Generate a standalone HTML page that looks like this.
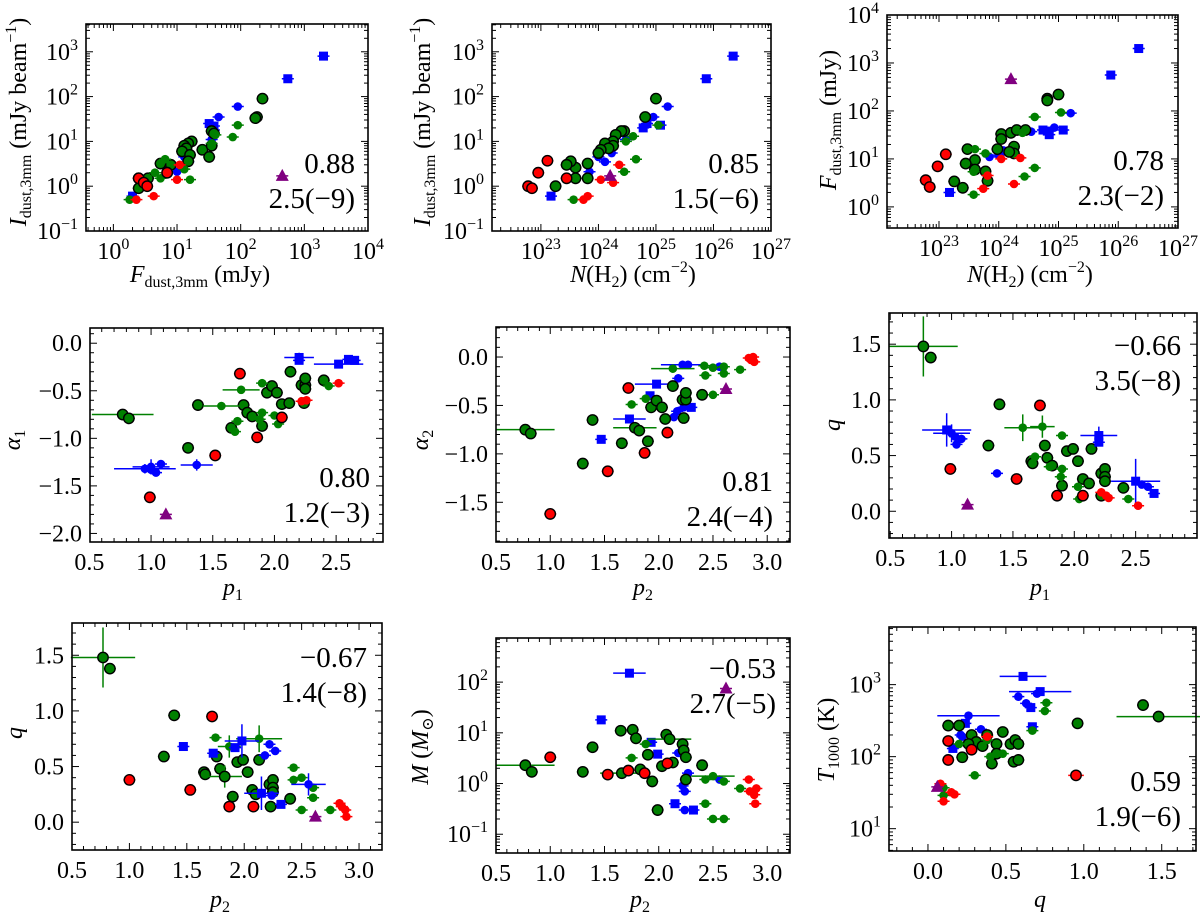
<!DOCTYPE html>
<html><head><meta charset="utf-8"><style>
html,body{margin:0;padding:0;background:#fff;}
svg{display:block;font-family:"Liberation Serif","DejaVu Serif",serif;}
</style></head><body>
<svg id="fig" width="1200" height="913" viewBox="0 0 1200 913" xmlns="http://www.w3.org/2000/svg"></svg>
<script>
// ---- Data (kinds: G green outlined, g green small, R red outlined, r red small, B blue square, b blue small, P purple triangle)
const p1x=[2000,550,90,45,32,38,38,35,14,13,15,10,2, 220,180,170,35,38,17,15,13,14,12,16,25,32,35,8,5.5,3.5,2.5,2.5,7,15, 90,75,6.5,4.5,5.5,16,13,1.8,40,35, 2.5,3,3.4,7, 2.3,4.3,10,11, 450];
const p1y=[800,250,60,35,25,22,18,11,5.5,4.5,3.5,2.1,0.6, 90,35,33,17,15,10,9,8,7,6,5,6.5,4.5,8,3,3.2,1.5,1.5,0.9,2,3.6, 23,12.5,4,2,1.5,1.4,2.4,0.5,14,9, 1.5,1.2,1.0,2, 0.5,0.6,1.4,3, 1.7];
const p1k="BBbbBBBbbbbbBGGGGGGGGGGGGGGGGGGGGGggggggggggRRRRrrrrP";
const p2x=[2.2e26,7.5e25,1.6e25,9e24,7e24,6e24,1.2e25,3e24,1.7e24,1.3e24,1e24,7e23,1.5e23, 1e25,6.5e24,2.8e24,2.5e24,2e24,1.8e24,1.3e24,1.8e24,1.5e24,1.1e24,1e24,6.5e23,4e23,3.3e23,2.8e23,1.8e23,4e23,6.5e23, 4e24,3e24,4.5e24,2.8e24,3.7e23,1.1e25, 6e22,7e22,9e22,1.3e23,2.8e23, 5.5e23,6.5e23,1.1e24,1.8e24,2.3e24, 1.6e24];
const p2y=[800,250,60,35,25,20,23,11,5.5,3.5,4.5,2.1,0.6, 90,35,17,17,14,10,9,8,7,6.5,5.5,3.2,2.6,3.6,3,1,1.5,1.5, 13,10,4,2.1,0.5,23, 1,0.9,2,3.7,1.5, 0.5,0.6,1.4,1.2,3, 1.7];
const p2k="BBbbBBBbbbbbBGGGGGGGGGGGGGGGGGGggggggRRRRRrrrrrP";
const p3x=[2.2e26,7.5e25,1.6e25,8.5e24,5.5e24,6.5e24,7e24,1.2e25,3.5e24,1.2e24,1.7e24,1e24,7e23,1.5e23, 1e25,6.5e24,6.5e24,1.1e24,1.1e24,1.6e24,2e24,2.8e24,1.8e24,1.8e24,1.5e24,9.5e23,6e23,6.5e23,4e23,4e23,3e23,2.8e23,1.8e23,2.5e23, 4e24,1.1e25,2.5e24,4e24,2.7e24,3.8e23,4e23,6e23,3.8e23, 6e22,7e22,9.5e22,1.3e23, 5.5e23,6.5e23,1.1e24,2.3e24,1.8e24, 1.6e24];
const p3y=[2000,560,90,45,40,38,32,40,37,15,14,12,11,2, 220,180,165,33,26,35,40,40,18,13,14,16,5.5,3.5,9.5,6,16,8,3.4,2.5, 75,93,35,6.5,4.3,1.8,16,13,5.4, 3.6,2.6,7,12.5, 2.4,4.5,10,10.5,3, 460];
const p3k="BBbbBBBBbbbbbBGGGGGGGGGGGGGGGGGGGGgggggggggRRRRrrrrrP";
const p4x=[2.2,2.2,2.52,2.6,2.65, 0.95,1.0,1.04,1.08,1.37,1.0, 0.77,0.82,1.3,1.38,1.65,1.75,1.78,1.82,1.9,1.94,1.98,2.02,2.06,2.12,2.13,2.22,2.25,2.25,2.25,2.4,2.24, 1.57,1.73,1.9,1.9,2.0,1.88,2.03,1.7,2.44,1.68, 1.72,2.06,1.86,1.52,0.99, 2.22,2.26,2.52, 1.12];
const p4y=[-0.15,-0.18,-0.22,-0.17,-0.18, -1.32,-1.3,-1.36,-1.27,-1.28,-1.33, -0.75,-0.79,-1.1,-0.65,-0.89,-0.65,-0.73,-0.77,-0.87,-0.52,-0.45,-0.52,-0.64,-0.63,-0.3,-0.44,-0.44,-0.37,-0.48,-0.39,-0.63, -0.66,-0.49,-0.42,-0.73,-0.76,-0.8,-0.85,-0.82,-0.45,-0.93, -0.32,-0.78,-0.99,-1.18,-1.62, -0.61,-0.6,-0.42, -1.8];
const p4k="BBBBBbbbbbbGGGGGGGGGGGGGGGGGGGGGggggggggggRRRRRrrrP";
const p5x=[2.83,2.87,2.88,2.85, 2.22,2.27,2.56,2.18,1.98,1.92,2.23,2.3,2.17,2.14,1.73,1.47, 2.13,2.42,2.5,2.6,2.43,2.6,2.75,2.5,1.75,1.88, 0.77,0.82,1.3,1.39,1.66,1.78,1.82,1.9,1.93,1.98,2.03,2.06,2.13,2.22,2.25,2.25,2.23,2.4, 1.72,2.08,1.87,1.53,1.0, 2.62];
const p5y=[-0.01,0,-0.05,-0.03, -0.08,-0.08,-0.1,-0.22,-0.28,-0.4,-0.52,-0.52,-0.56,-0.62,-0.64,-0.85, -0.12,-0.09,-0.11,-0.1,-0.19,-0.17,-0.13,-0.39,-0.49,-0.43, -0.75,-0.79,-1.1,-0.65,-0.89,-0.73,-0.76,-0.87,-0.52,-0.45,-0.52,-0.64,-0.3,-0.44,-0.44,-0.37,-0.63,-0.39, -0.32,-0.78,-0.99,-1.18,-1.62, -0.33];
const p5k="rrrrbbbbBBbBbbBBggggggggggGGGGGGGGGGGGGGGGGGRRRRRP";
const p6x=[0.77,0.83,1.39,1.3,1.65,1.66,1.76,1.78,1.82,1.9,1.94,1.99,2.03,2.07,2.12,2.14,2.22,2.25,2.25,2.25,2.4,2.22, 1.58,1.74,1.9,1.68,1.8,1.89,1.9,2.03,2.04,2.44, 0.96,1.0,1.03,1.08,1.04,1.37,2.2,2.2,2.5,2.55,2.6,2.65, 1.72,0.99,1.53,1.86,2.07, 2.22,2.26,2.28,2.52, 1.13];
const p6y=[1.48,1.38,0.96,0.59,0.45,0.43,0.59,0.48,0.41,0.23,0.54,0.56,0.45,0.29,0.25,0.56,0.34,0.38,0.31,0.27,0.21,0.14, 0.75,0.76,0.68,0.49,0.4,0.31,0.38,0.22,0.11,0.11, 0.73,0.7,0.67,0.65,0.6,0.34,0.68,0.62,0.27,0.24,0.22,0.16, 0.95,0.38,0.29,0.14,0.14, 0.17,0.14,0.12,0.05, 0.06];
const p6k="GGGGGGGGGGGGGGGGGGGGGGggggggggggBbbbbbBBBbbBRRRRRrrrrP";
const p7x=[0.77,0.83,1.39,1.3,1.65,1.66,1.76,1.79,1.83,1.9,1.94,1.99,2.03,2.07,2.13,2.22,2.25,2.25,2.25,2.4,2.23,2.1, 1.75,1.87,2.13,2.43,2.43,2.5,2.6,2.6,2.5,2.75, 1.47,1.73,1.92,1.98,2.22,2.27,2.18,2.56,2.15,2.24,2.32, 1.72,1.0,1.53,1.87,2.08, 2.83,2.85,2.88,2.89, 2.62];
const p7y=[1.48,1.38,0.96,0.59,0.45,0.43,0.59,0.48,0.41,0.23,0.54,0.56,0.45,0.29,0.56,0.34,0.38,0.31,0.27,0.21,0.14,0.25, 0.76,0.68,0.75,0.49,0.38,0.4,0.31,0.22,0.11,0.11, 0.68,0.62,0.67,0.73,0.7,0.64,0.6,0.34,0.26,0.24,0.16, 0.95,0.38,0.29,0.14,0.14, 0.17,0.14,0.11,0.05, 0.05];
const p7k="GGGGGGGGGGGGGGGGGGGGGGggggggggggBBBBbbbbBbBRRRRRrrrrP";
const p8x=[1.73,1.47,1.93,1.99,2.18,2.27,2.22,2.24,2.56,2.15,2.24,2.32, 0.77,0.83,1.3,1.39,1.65,1.76,1.79,1.66,1.83,1.9,1.94,1.99,2.03,2.07,2.1,2.13,2.22,2.23,2.25,2.25,2.4, 1.75,1.88,2.43,2.5,2.6,2.43,2.5,2.6,2.75, 1.0,1.53,1.72,1.87,2.08, 2.83,2.84,2.88,2.9,2.89, 2.62];
const p8y=[150,18,6.5,3.8,4,1.6,0.9,0.7,1.2,0.4,0.3,0.3, 2.3,1.7,1.7,5.2,11,11.5,7.8,1.6,1.9,3.7,1.1,0.3,2.2,9.2,7.5,2.6,6,4.5,3.3,1.2,2.3, 3.2,6,1.2,1.4,1.1,0.4,0.2,0.2,0.8, 3.3,1.5,1.8,1.6,2.5, 1.2,0.7,0.6,0.8,0.4, 75];
const p8k="BBBBbbbbbBbBGGGGGGGGGGGGGGGGGGGGGgggggggggRRRRRrrrrrP";
const p9x=[0.61,0.72,0.7,0.58,0.63,0.66,0.67,0.26,0.24,0.22,0.34,0.16,0.21, 1.38,1.48,0.96,0.13,0.2,0.48,0.28,0.38,0.31,0.26,0.35,0.44,0.53,0.56,0.58,0.55,0.58,0.22,0.44,0.41, 0.76,0.75,0.67,0.2,0.38,0.4,0.48,0.3,0.1,0.1, 0.13,0.13,0.28,0.95, 0.38,0.1,0.08,0.15,0.17, 0.06];
const p9y=[1300,800,750,680,550,480,260,370,290,190,240,130,200, 520,360,290,270,270,220,200,200,160,150,140,150,150,170,150,85,90,98,110,80, 560,430,230,150,170,100,110,55,37,29, 165,90,125,55, 190,24,42,32,30, 38];
const p9k="BBbbbBBbBbbBbGGGGGGGGGGGGGGGGGGGGggggggggggRRRRrrrrrP";
// large error bars: [index, xerr, yerr] in data units (log panels: multiplicative factor)
const p4err=[[0,0.12,0.05],[2,0.2,0],[5,0.25,0.05],[6,0.15,0.08],[9,0.13,0.06],[11,0.25,0],[32,0.15,0],[33,0.15,0],[52,0.12,0.13]];
const p5err=[[0,0,0],[4,0.2,0],[8,0.2,0],[14,0.15,0],[16,0.2,0],[26,0.27,0],[31,0.2,0]];
const p6err=[[0,0.28,0.27],[22,0.15,0.12],[23,0.1,0.1],[32,0.2,0.15],[33,0.15,0.08],[38,0.15,0.08],[40,0.2,0.2],[54,0.15,0]];
const p7err=[[0,0.28,0.27],[23,0.1,0.1],[24,0.2,0.12],[35,0.15,0.15],[39,0.15,0.1],[40,0.15,0.15],[8,0.15,0.1]];
const p8err=[[0,0.15,0],[12,0.27,0],[19,0.2,0],[26,0.2,0],[36,0.2,0]];
const p9err=[[0,0.15,0],[1,0.2,0],[7,0.2,0],[14,0.27,0],[46,0.05,0],[53,0,0]];
// tick labels
const xtDecades1=[0,1,2,3,4];
const xtDecadesN=[23,24,25,26,27];
const xtP=[0.5,1.0,1.5,2.0,2.5,3.0];
const xtQ=[0.0,0.5,1.0,1.5];
const yt1=[-1,0,1,2,3];
const yt3=[0,1,2,3,4];
const yt4=[0.0,-0.5,-1.0,-1.5,-2.0];
const yt5=[0.0,-0.5,-1.0,-1.5];
const ytq=[0.0,0.5,1.0,1.5];
const yt8=[-1,0,1,2];
const yt9=[1,2,3];

const NS="http://www.w3.org/2000/svg";
const svg=document.getElementById('fig');
const COL={G:'#008000',g:'#008000',R:'#ff0000',r:'#ff0000',B:'#0000ff',b:'#0000ff',P:'#800080'};
function mk(tag,attrs,parent){const e=document.createElementNS(NS,tag);for(const k in attrs)e.setAttribute(k,attrs[k]);(parent||svg).appendChild(e);return e;}

function panel(cfg){
  const g=mk('g',{});
  
  
  const L=cfg.L,R=cfg.R,T=cfg.T,B=cfg.B;
  const fx=v=>{const t=cfg.xlog?Math.log10(v):v;return L+(t-cfg.x0)/(cfg.x1-cfg.x0)*(R-L);};
  const fy=v=>{const t=cfg.ylog?Math.log10(v):v;return B-(t-cfg.y0)/(cfg.y1-cfg.y0)*(B-T);};
  const fxr=t=>L+(t-cfg.x0)/(cfg.x1-cfg.x0)*(R-L);
  const fyr=t=>B-(t-cfg.y0)/(cfg.y1-cfg.y0)*(B-T);
  const tk=mk('g',{stroke:'#000','stroke-width':1},g);
  
  
  function xt(t,len){const x=fxr(t);if(x<L-0.5||x>R+0.5)return;mk('line',{x1:x,x2:x,y1:B,y2:B-len},tk);mk('line',{x1:x,x2:x,y1:T,y2:T+len},tk);}
  function yt(t,len){const y=fyr(t);if(y<T-0.5||y>B+0.5)return;mk('line',{x1:L,x2:L+len,y1:y,y2:y},tk);mk('line',{x1:R,x2:R-len,y1:y,y2:y},tk);}
  if(cfg.xlog){for(let d=Math.floor(cfg.x0);d<=Math.ceil(cfg.x1);d++){xt(d,7);for(let m=2;m<10;m++)xt(d+Math.log10(m),4);}}
  else{for(let t=Math.ceil(cfg.x0*10-1e-6);t<=cfg.x1*10+1e-6;t++){xt(t/10,(t%5===0)?7:4);}}
  if(cfg.ylog){for(let d=Math.floor(cfg.y0);d<=Math.ceil(cfg.y1);d++){yt(d,7);for(let m=2;m<10;m++)yt(d+Math.log10(m),4);}}
  else{for(let t=Math.ceil(cfg.y0*10-1e-6);t<=cfg.y1*10+1e-6;t++){yt(t/10,(t%5===0)?7:4);}}
  const fmt=v=>(v<0?'\u2212':'')+Math.abs(v).toFixed(1);
  cfg.xt.forEach(v=>{
    const x=cfg.xlog?fxr(v):fx(v);
    const t=mk('text',{x:x,y:B+28,'font-size':24,'text-anchor':'middle'},g);
    
    
    if(cfg.xlog){t.textContent='10';const s=mk('tspan',{'font-size':16,dy:-10},t);s.textContent=String(v).replace('-','\u2212');}
    else t.textContent=fmt(v);
  });
  cfg.yt.forEach(v=>{
    const y=cfg.ylog?fyr(v):fy(v);
    const t=mk('text',{x:L-8,y:y+8,'font-size':24,'text-anchor':'end'},g);
    
    
    if(cfg.ylog){t.textContent='10';const s=mk('tspan',{'font-size':16,dy:-10},t);s.textContent=String(v).replace('-','\u2212');}
    else t.textContent=fmt(v);
  });
  const pts=mk('g',{},g);
  
  
  const big={};(cfg.err||[]).forEach(e=>big[e[0]]=e);
  const xs=cfg.xs,ys=cfg.ys,ks=cfg.ks;
  for(let i=0;i<xs.length;i++){
    const k=ks[i]||'g',c=COL[k];
    const cx=fx(xs[i]),cy=fy(ys[i]);
    let x1=cx-6,x2=cx+6,y1=cy-4,y2=cy+4;
    if(big[i]){const e=big[i];
      if(e[1]){if(cfg.xlog){x1=fx(xs[i]/(1+e[1]*5));x2=fx(xs[i]*(1+e[1]*5));}else{x1=fx(xs[i]-e[1]);x2=fx(xs[i]+e[1]);}}
      if(e[2]){if(cfg.ylog){y1=fy(ys[i]*(1+e[2]*5));y2=fy(ys[i]/(1+e[2]*5));}else{y1=fy(ys[i]+e[2]);y2=fy(ys[i]-e[2]);}}
    }
    const eb=mk('path',{d:`M${x1},${cy}H${x2}M${cx},${y1}V${y2}`,stroke:c,'stroke-width':1.5,fill:'none'},pts);
    
    
    let m;
    if(k==='G'||k==='R') m=mk('circle',{cx:cx,cy:cy,r:5.2,fill:c,stroke:'#000','stroke-width':1.4},pts);
    else if(k==='B') m=mk('rect',{x:cx-4.5,y:cy-4.5,width:9,height:9,fill:c},pts);
    else if(k==='P') m=mk('path',{d:`M${cx},${cy-7}L${cx+6.5},${cy+5}L${cx-6.5},${cy+5}Z`,fill:c},pts);
    else m=mk('circle',{cx:cx,cy:cy,r:4.3,fill:c},pts);
    
    
  }
  const fr=mk('rect',{x:L,y:T,width:R-L,height:B-T,fill:'none',stroke:'#000','stroke-width':1.6},g);
  
  
  const a1=mk('text',{x:cfg.ax,y:cfg.ay,'font-size':29,'text-anchor':'end'},g);
  
  
  a1.textContent=cfg.a1;
  const a2=mk('text',{x:cfg.ax,y:cfg.ay+35,'font-size':29,'text-anchor':'end'},g);
  
  
  a2.textContent=cfg.a2;
  const xl=mk('text',{x:cfg.xlx,y:cfg.xly,'font-size':24,'text-anchor':'middle'},g);
  
  
  xl.innerHTML=cfg.xlab;
  const yl=mk('text',{x:0,y:0,'font-size':24,'text-anchor':'middle',transform:`translate(${cfg.ylx},${cfg.yly}) rotate(-90)`},g);
  
  
  yl.innerHTML=cfg.ylab;
}
const sub=(s)=>`<tspan font-size="16" dy="5">${s}</tspan><tspan dy="-5"> </tspan>`;
const Ilab=`<tspan font-style="italic">I</tspan>${sub('dust,3mm')}(mJy beam<tspan font-size="16" dy="-10">\u22121</tspan><tspan dy="10">)</tspan>`;
const Flab=`<tspan font-style="italic">F</tspan>${sub('dust,3mm')}(mJy)`;
const Nlab=`<tspan font-style="italic">N</tspan>(H<tspan font-size="16" dy="5">2</tspan><tspan dy="-5">) (cm</tspan><tspan font-size="16" dy="-10">\u22122</tspan><tspan dy="10">)</tspan>`;
const pl=(n)=>`<tspan font-style="italic">p</tspan><tspan font-size="16" dy="5">${n}</tspan>`;
const al=(n)=>`<tspan font-style="italic">\u03b1</tspan><tspan font-size="16" dy="5">${n}</tspan>`;

panel({name:'panel-I-vs-F',L:86,R:368,T:24,B:231,xlog:true,x0:-0.43,x1:4,ylog:true,y0:-1,y1:3.62,xs:p1x,ys:p1y,ks:p1k,xt:xtDecades1,yt:yt1,ax:355,ay:173,a1:'0.88',a2:'2.5(\u22129)',xlx:200,xly:282,xlab:Flab,ylx:26,yly:122,ylab:Ilab});
panel({name:'panel-I-vs-N',L:492,R:771,T:24,B:231,xlog:true,x0:22.15,x1:27,ylog:true,y0:-1,y1:3.62,xs:p2x,ys:p2y,ks:p2k,xt:xtDecadesN,yt:yt1,ax:759,ay:173,a1:'0.85',a2:'1.5(\u22126)',xlx:633,xly:282,xlab:Nlab,ylx:430,yly:122,ylab:Ilab});
panel({name:'panel-F-vs-N',L:887,R:1178,T:15,B:228,xlog:true,x0:22.13,x1:27,ylog:true,y0:-0.44,y1:4,xs:p3x,ys:p3y,ks:p3k,xt:xtDecadesN,yt:yt3,ax:1164,ay:170,a1:'0.78',a2:'2.3(\u22122)',xlx:1030,xly:282,xlab:Nlab,ylx:836,yly:120,ylab:Flab});
panel({name:'panel-alpha1-vs-p1',L:90,R:383,T:328,B:542,x0:0.505,x1:2.88,y0:-2.09,y1:0.16,xs:p4x,ys:p4y,ks:p4k,err:p4err,xt:[0.5,1.0,1.5,2.0,2.5],yt:yt4,ax:370,ay:487,a1:'0.80',a2:'1.2(\u22123)',xlx:233,xly:595,xlab:pl(1),ylx:20,yly:440,ylab:al(1)});
panel({name:'panel-alpha2-vs-p2',L:496,R:790,T:327,B:542,x0:0.5,x1:3.21,y0:-1.91,y1:0.31,xs:p5x,ys:p5y,ks:p5k,err:p5err,xt:xtP,yt:yt5,ax:773,ay:491,a1:'0.81',a2:'2.4(\u22124)',xlx:643,xly:595,xlab:pl(2),ylx:428,yly:440,ylab:al(2)});
panel({name:'panel-q-vs-p1',L:889,R:1197,T:313,B:538,x0:0.49,x1:3.0,y0:-0.24,y1:1.78,xs:p6x,ys:p6y,ks:p6k,err:p6err,xt:[0.5,1.0,1.5,2.0,2.5],yt:ytq,ax:1181,ay:355,a1:'\u22120.66',a2:'3.5(\u22128)',xlx:1040,xly:595,xlab:pl(1),ylx:840,yly:425,ylab:'<tspan font-style="italic">q</tspan>'});
panel({name:'panel-q-vs-p2',L:72,R:382,T:623,B:850,x0:0.5,x1:3.2,y0:-0.25,y1:1.79,xs:p7x,ys:p7y,ks:p7k,err:p7err,xt:xtP,yt:ytq,ax:367,ay:667,a1:'\u22120.67',a2:'1.4(\u22128)',xlx:220,xly:907,xlab:pl(2),ylx:22,yly:733,ylab:'<tspan font-style="italic">q</tspan>'});
panel({name:'panel-M-vs-p2',L:496,R:790,T:638,B:853,x0:0.5,x1:3.21,ylog:true,y0:-1.37,y1:2.87,xs:p8x,ys:p8y,ks:p8k,err:p8err,xt:xtP,yt:yt8,ax:776,ay:678,a1:'\u22120.53',a2:'2.7(\u22125)',xlx:640,xly:907,xlab:pl(2),ylx:428,yly:747,ylab:'<tspan font-style="italic">M</tspan> (<tspan font-style="italic">M</tspan><tspan font-size="16" dy="5">\u2299</tspan><tspan dy="-5">)</tspan>'});
panel({name:'panel-T1000-vs-q',L:889,R:1196,T:627,B:851,x0:-0.25,x1:1.72,ylog:true,y0:0.69,y1:3.8,xs:p9x,ys:p9y,ks:p9k,err:p9err,xt:xtQ,yt:yt9,ax:1181,ay:791,a1:'0.59',a2:'1.9(\u22126)',xlx:1040,xly:907,xlab:'<tspan font-style="italic">q</tspan>',ylx:834,yly:740,ylab:'<tspan font-style="italic">T</tspan><tspan font-size="16" dy="5">1000</tspan><tspan dy="-5"> (K)</tspan>'});
</script>
</body></html>
